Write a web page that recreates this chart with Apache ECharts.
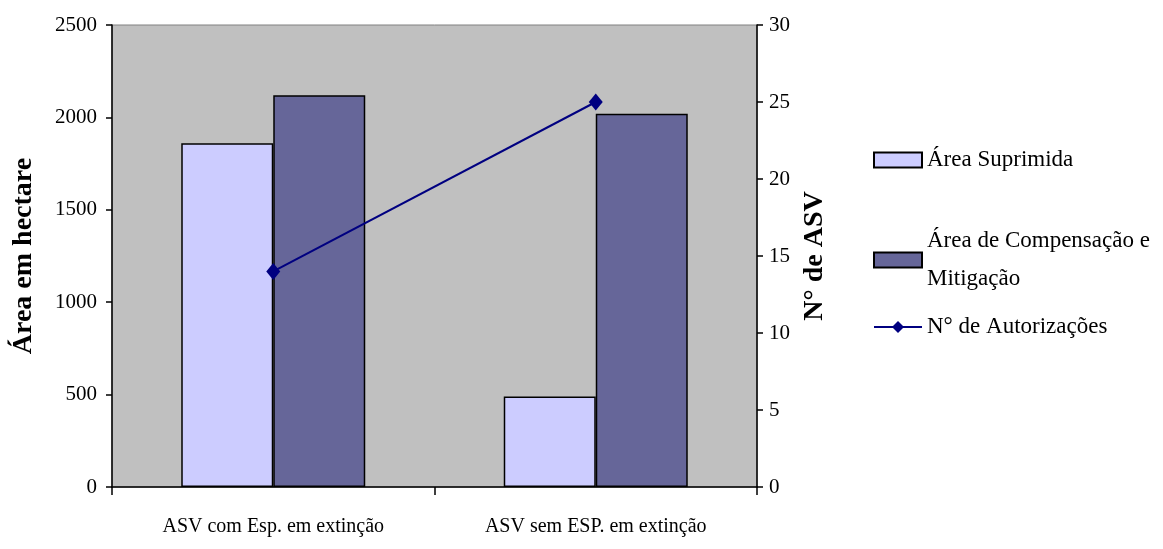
<!DOCTYPE html>
<html><head><meta charset="utf-8">
<script src="https://cdn.jsdelivr.net/npm/echarts@6/dist/echarts.min.js"></script>
<style>html,body{margin:0;padding:0;background:#fff}#c{width:1163px;height:549px}</style>
</head><body><div id="c"></div>
<script>
const categories = ['ASV com Esp. em extinção', 'ASV sem ESP. em extinção'];
const areaSuprimida = [1860, 490];
const areaCompensacao = [2120, 2020];
const numAutorizacoes = [14, 25];
const leftTicks = { min: 0, max: 2500, interval: 500 };
const rightTicks = { min: 0, max: 30, interval: 5 };

const font = 'Liberation Serif, Times New Roman, serif';
const chart = echarts.init(document.getElementById('c'));
const legendBase = {
  orient: 'vertical', itemWidth: 48, itemHeight: 15, itemGap: 0,
  textStyle: { fontFamily: font, fontSize: 23, color: '#000', lineHeight: 38 }
};
chart.setOption({
  animation: false,
  textStyle: { fontFamily: font },
  grid: { left: 112, right: 406, top: 25, bottom: 62, show: true, backgroundColor: '#C0C0C0', borderColor: '#808080', borderWidth: 1 },
  legend: [
    Object.assign({}, legendBase, { data: [{ name: 'Área Suprimida', icon: 'rect' }], left: 868, top: 136,
      itemStyle: { borderColor: '#000', borderWidth: 2 } }),
    Object.assign({}, legendBase, { data: [{ name: 'Área de Compensação e\nMitigação', icon: 'rect' }], left: 868, top: 217,
      itemStyle: { borderColor: '#000', borderWidth: 2 } }),
    Object.assign({}, legendBase, { data: ['N° de Autorizações'], left: 868, top: 303 })
  ],
  xAxis: {
    type: 'category', data: categories, boundaryGap: true,
    axisLine: { lineStyle: { color: '#000', width: 1.5 } },
    axisTick: { show: true, length: 8, lineStyle: { color: '#000', width: 1.5 } },
    axisLabel: { color: '#000', fontSize: 20, fontFamily: font, margin: 30, interval: 0 },
    splitLine: { show: false }
  },
  yAxis: [
    { type: 'value', position: 'left', min: leftTicks.min, max: leftTicks.max, interval: leftTicks.interval,
      name: 'Área em hectare', nameLocation: 'middle', nameRotate: 90, nameGap: 74,
      nameTextStyle: { fontFamily: font, fontSize: 28, fontWeight: 'bold', color: '#000' },
      axisLine: { show: true, lineStyle: { color: '#000', width: 1.5 } },
      axisTick: { show: true, length: 6, lineStyle: { color: '#000', width: 1.5 } },
      axisLabel: { color: '#000', fontSize: 21, fontFamily: font, margin: 15, formatter: v => String(v) },
      splitLine: { show: false } },
    { type: 'value', position: 'right', min: rightTicks.min, max: rightTicks.max, interval: rightTicks.interval,
      name: 'N° de ASV', nameLocation: 'middle', nameRotate: 90, nameGap: 36,
      nameTextStyle: { fontFamily: font, fontSize: 28, fontWeight: 'bold', color: '#000' },
      axisLine: { show: true, lineStyle: { color: '#000', width: 1.5 } },
      axisTick: { show: true, length: 6, lineStyle: { color: '#000', width: 1.5 } },
      axisLabel: { color: '#000', fontSize: 21, fontFamily: font, margin: 12, formatter: v => String(v) },
      splitLine: { show: false } }
  ],
  series: [
    { name: 'Área Suprimida', type: 'bar', data: areaSuprimida, barWidth: 92, barGap: '0%',
      itemStyle: { color: '#CCCCFF', borderColor: '#000', borderWidth: 1.5 } },
    { name: 'Área de Compensação e\nMitigação', type: 'bar', data: areaCompensacao, barWidth: 92, barGap: '0%',
      itemStyle: { color: '#666699', borderColor: '#000', borderWidth: 1.5 } },
    { name: 'N° de Autorizações', type: 'line', yAxisIndex: 1, data: numAutorizacoes,
      symbol: 'diamond', symbolSize: [14, 17],
      lineStyle: { color: '#000080', width: 2 }, itemStyle: { color: '#000080' } }
  ]
});
</script></body></html>
